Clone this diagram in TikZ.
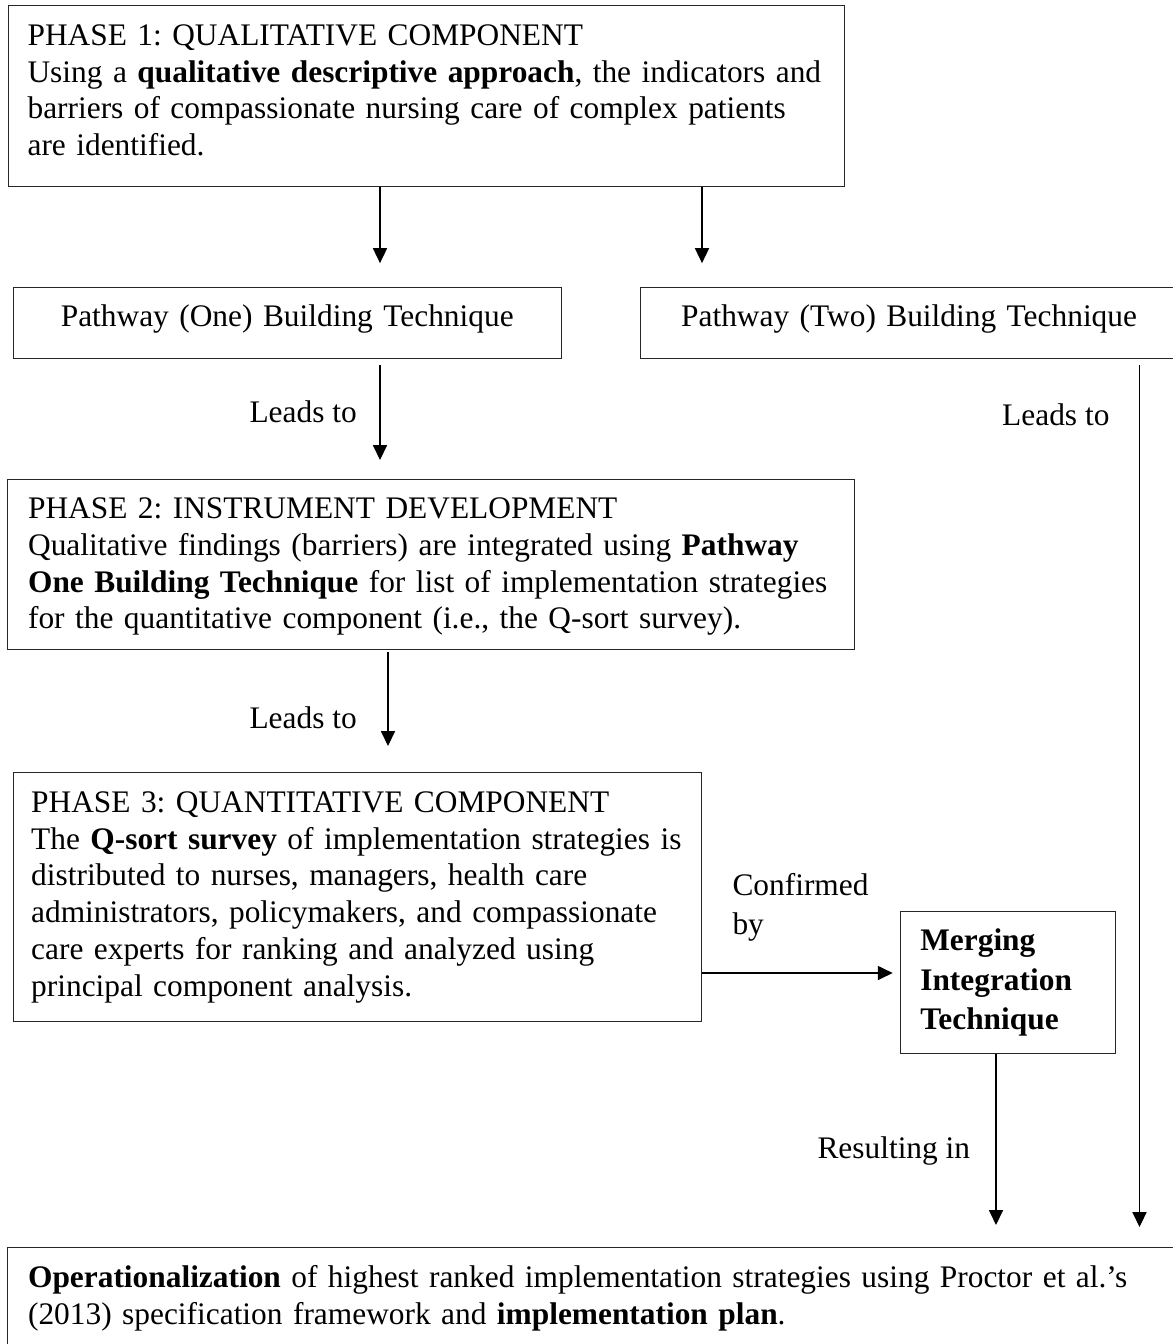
\documentclass[tikz,border=0pt]{standalone}
\usepackage{fontspec}
\setmainfont{Liberation Serif}
\usetikzlibrary{arrows.meta}
\hyphenpenalty=10000
\exhyphenpenalty=10000
\frenchspacing

\begin{document}
\begin{tikzpicture}[
  x=0.3766pt, y=-0.3766pt,
  every node/.style={font=\fontsize{11.82pt}{13.82pt}\selectfont},
  box/.style={draw=black!85, line width=0.45pt, rectangle, inner ysep=0pt,
              anchor=north west, align=left},
  pathbox/.style={draw=black!85, line width=0.45pt, rectangle, inner sep=0pt,
              anchor=north west, align=center,
              text height=14.69pt, text depth=12.05pt},
  arr/.style={-{Triangle[width=5.3pt,length=5.6pt]}, line width=0.45pt, black},
  lbl/.style={inner sep=0pt, anchor=base west}
]
\useasboundingbox (0,0) rectangle (1172,1344);

% Phase 1
\node[box, inner xsep=7.34pt, text width=300.3pt,
      text height=15.06pt, text depth=53.1pt] (ph1) at (7.5,5)
  {PHASE 1: QUALITATIVE COMPONENT\\
   Using a \textbf{qualitative descriptive approach}, the indicators and\\
   barriers of compassionate nursing care of complex patients\\
   are identified.};

% Building technique pathways
\node[pathbox, text width=206.4pt] (pw1) at (12.6,287)
  {Pathway (One) Building Technique};
\node[pathbox, text width=202.2pt] (pw2) at (640,287)
  {Pathway (Two) Building Technique};

% Phase 2
\node[box, inner xsep=7.91pt, text width=303.2pt,
      text height=14.69pt, text depth=49.33pt] (ph2) at (6.5,479)
  {PHASE 2: INSTRUMENT DEVELOPMENT\\
   Qualitative findings (barriers) are integrated using \textbf{Pathway}\\
   \textbf{One Building Technique} for list of implementation strategies\\
   for the quantitative component (i.e., the Q-sort survey).};

% Phase 3
\node[box, inner xsep=6.78pt, text width=245.6pt,
      text height=15.06pt, text depth=78.7pt] (ph3) at (12.6,772)
  {PHASE 3: QUANTITATIVE COMPONENT\\
   The \textbf{Q-sort survey} of implementation strategies is\\
   distributed to nurses, managers, health care\\
   administrators, policymakers, and compassionate\\
   care experts for ranking and analyzed using\\
   principal component analysis.};

% Merging integration
\node[box, inner xsep=7.53pt, text width=66.1pt,
      text height=14.8pt, text depth=38.8pt,
      font=\fontsize{11.82pt}{14.9pt}\selectfont\bfseries] (merge) at (899.7,910.7)
  {Merging\\Integration\\Technique};

% Operationalization
\node[box, inner xsep=7.91pt, text width=426.1pt,
      text height=15.06pt, text depth=24.5pt] (oper) at (6.5,1247)
  {\textbf{Operationalization} of highest ranked implementation strategies using Proctor et al.’s\\
   (2013) specification framework and \textbf{implementation plan}.};

% Connector columns
\coordinate (xa) at (380,0);
\coordinate (xb) at (702,0);
\coordinate (xc) at (1139.5,0);
\coordinate (xd) at (388,0);
\coordinate (xe) at (996,0);
\coordinate (ya) at (0,973);

% Connectors
\draw[arr, shorten >=9.0pt] (ph1.south -| xa) -- (pw1.north -| xa);
\draw[arr, shorten >=9.0pt] (ph1.south -| xb) -- (pw2.north -| xb);
\draw[arr, shorten <=2.26pt, shorten >=7.16pt] (pw1.south -| xa) -- (ph2.north -| xa);
\draw[arr, shorten <=2.26pt, shorten >=7.53pt] (pw2.south -| xc) -- (oper.north -| xc);
\draw[arr, shorten <=0.75pt, shorten >=9.8pt] (ph2.south -| xd) -- (ph3.north -| xd);
\draw[arr, shorten >=2.64pt] (ph3.east |- ya) -- (merge.west |- ya);
\draw[arr, shorten >=8.3pt] (merge.south -| xe) -- (oper.north -| xe);

% Connector labels
\node[lbl] (l1) at (249,422) {Leads to};
\node[lbl] (l2) at (1001.7,425) {Leads to};
\node[lbl] (l3) at (249,728) {Leads to};
\node[lbl, text width=55pt, align=left,
      font=\fontsize{11.82pt}{14.9pt}\selectfont] (l4) at (732,895) {Confirmed\\by};
\node[lbl] (l5) at (817,1158) {Resulting in};
\end{tikzpicture}
\end{document}
